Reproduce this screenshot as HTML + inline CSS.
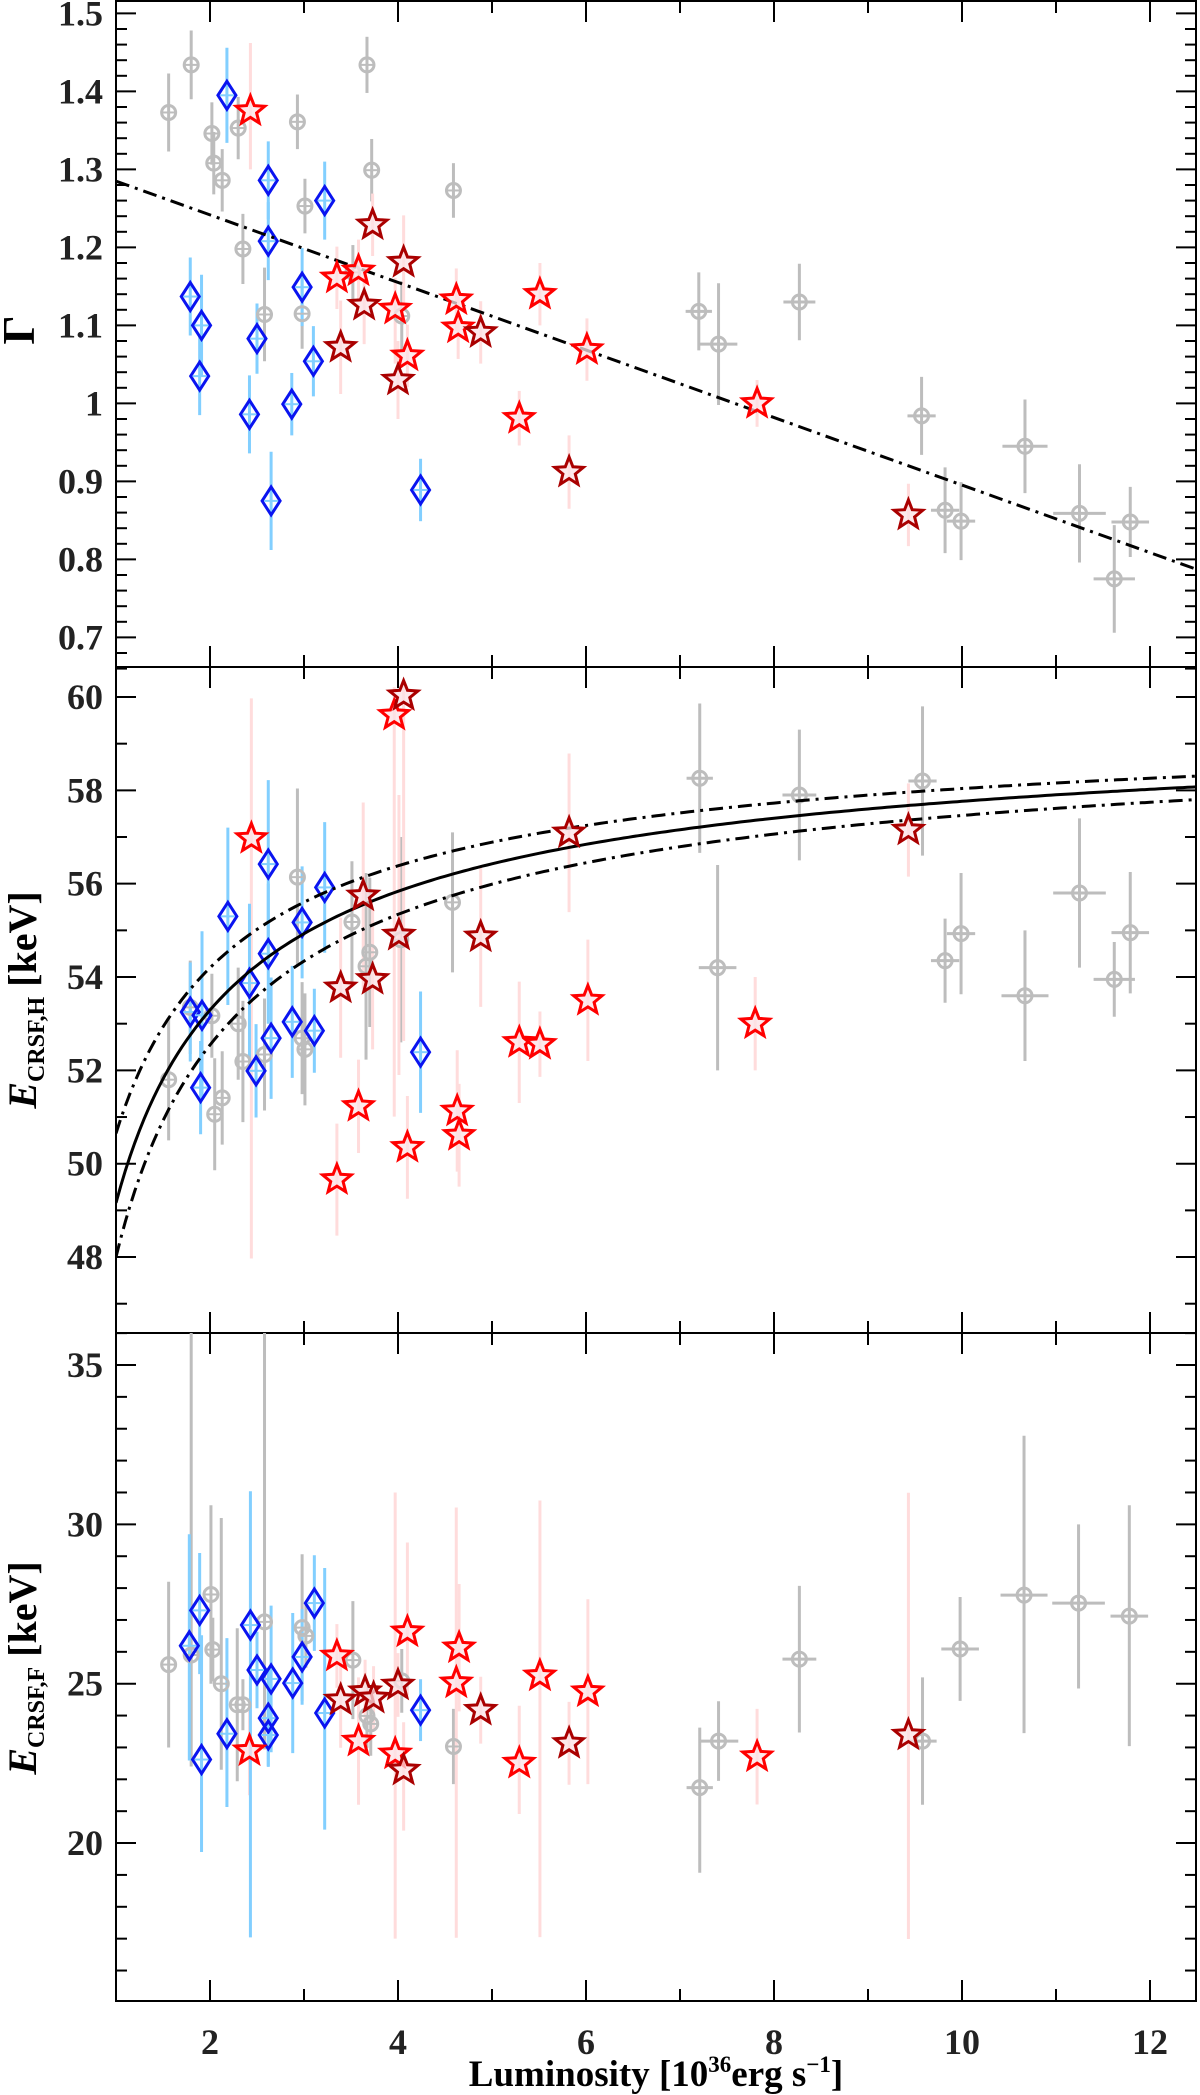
<!DOCTYPE html>
<html><head><meta charset="utf-8"><style>
html,body{margin:0;padding:0;background:#fff;}
svg{display:block;font-family:"Liberation Serif",serif;}
</style></head><body>
<svg id="chart" xmlns="http://www.w3.org/2000/svg" width="1200" height="2095" viewBox="0 0 1200 2095">
<rect x="0" y="0" width="1200" height="2095" fill="#fff"/>
<defs>
<clipPath id="c1"><rect x="116" y="1" width="1080" height="666"/></clipPath>
<clipPath id="c2"><rect x="116" y="667" width="1080" height="666"/></clipPath>
<clipPath id="c3"><rect x="116" y="1333" width="1080" height="668"/></clipPath>
</defs>
<g id="layer"></g>
<text x="0" y="0" transform="translate(34,330) rotate(-90)" text-anchor="middle" font-size="46" font-weight="bold">Γ</text>
<text transform="translate(36,1000) rotate(-90)" text-anchor="middle" font-size="40" font-weight="bold"><tspan font-style="italic">E</tspan><tspan font-size="24" dy="8">CRSF,H</tspan><tspan dy="-8"> [keV]</tspan></text>
<text transform="translate(36,1668) rotate(-90)" text-anchor="middle" font-size="40" font-weight="bold"><tspan font-style="italic">E</tspan><tspan font-size="24" dy="8">CRSF,F</tspan><tspan dy="-8"> [keV]</tspan></text>
<text x="656" y="2086" text-anchor="middle" font-size="37" font-weight="bold">Luminosity [10<tspan font-size="23" dy="-14">36</tspan><tspan dy="14">erg s</tspan><tspan font-size="23" dy="-14">−1</tspan><tspan dy="14">]</tspan></text>
</svg>
<script>
// ---------- Panel 1: photon index Gamma ----------
const p1GreyX=[1.56,1.8,2.02,2.04,2.13,2.3,2.35,2.58,2.93,2.98,3.01,3.52,3.67,3.72,4.04,4.59,7.2,7.41,8.27,9.57,9.82,9.99,10.67,11.25,11.62,11.79];
const p1GreyY=[1.373,1.434,1.346,1.308,1.286,1.353,1.198,1.114,1.361,1.115,1.253,1.168,1.434,1.299,1.112,1.273,1.118,1.076,1.13,0.984,0.863,0.849,0.945,0.859,0.775,0.848];
const p1GreyErr=[0.05,0.044,0.04,0.04,0.04,0.04,0.045,0.06,0.035,0.045,0.035,0.035,0.036,0.04,0.045,0.035,0.05,0.078,0.049,0.05,0.055,0.05,0.06,0.063,0.069,0.045];
const p1GreyXErr=[0,0,0,0,0,0,0,0,0,0,0,0,0,0,0,0,0.14,0.2,0.17,0.15,0.15,0.15,0.24,0.28,0.22,0.2];
const p1BlueX=[1.79,1.91,1.89,2.18,2.42,2.5,2.62,2.62,2.65,2.87,2.98,3.1,3.22,4.24];
const p1BlueY=[1.137,1.1,1.035,1.395,0.986,1.083,1.286,1.208,0.875,0.999,1.149,1.054,1.26,0.889];
const p1BlueErr=[0.05,0.065,0.05,0.061,0.05,0.045,0.05,0.05,0.063,0.04,0.05,0.045,0.05,0.04];
const p1RedX=[2.43,3.35,3.58,3.97,4.1,4.62,4.64,5.51,6.01,5.29,7.82];
const p1RedY=[1.375,1.161,1.17,1.121,1.061,1.133,1.097,1.14,1.069,0.981,1.0];
const p1RedLo=[0.075,0.04,0.04,0.07,0.04,0.04,0.04,0.04,0.04,0.035,0.03];
const p1RedHi=[0.087,0.04,0.04,0.04,0.04,0.04,0.04,0.04,0.04,0.035,0.03];
const p1DarkX=[3.39,3.64,3.73,4.06,4.0,4.88,5.82,9.43];
const p1DarkY=[1.072,1.126,1.229,1.181,1.03,1.091,0.912,0.857];
const p1DarkErr=[0.06,0.05,0.04,0.06,0.05,0.04,0.047,0.04];
const p1LineParams=[1.285,-0.0433]; // Gamma = a + b*(L-1)
const p1Ticks=[0.7,0.8,0.9,1,1.1,1.2,1.3,1.4,1.5];
const p1TickLabels=["0.7","0.8","0.9","1","1.1","1.2","1.3","1.4","1.5"];

// ---------- Panel 2: E_CRSF,H ----------
const p2GreyX=[1.56,1.79,2.02,2.05,2.13,2.3,2.35,2.58,2.93,2.98,3.01,3.51,3.7,3.66,4.03,4.58,7.21,7.4,8.27,9.58,9.82,9.99,10.67,11.25,11.62,11.79];
const p2GreyY=[51.8,53.35,53.17,51.06,51.41,53.0,52.19,52.34,56.14,52.69,52.45,55.18,54.53,54.23,54.8,55.6,58.26,54.2,57.9,58.2,54.35,54.93,53.6,55.8,53.95,54.95];
const p2GreyErr=[1.3,1.0,0.9,1.2,1.0,1.2,1.3,1.2,1.9,1.2,1.2,1.3,1.6,2.0,2.2,1.5,1.6,2.2,1.4,1.6,0.9,1.3,1.4,1.6,0.8,1.3];
const p2GreyXErr=[0,0,0,0,0,0,0,0,0,0,0,0,0,0,0,0,0.14,0.2,0.18,0.15,0.15,0.15,0.25,0.28,0.22,0.2];
const p2BlueX=[1.79,1.915,1.9,2.19,2.42,2.49,2.62,2.62,2.65,2.875,2.98,3.11,3.22,4.24];
const p2BlueY=[53.25,53.18,51.63,55.3,53.87,51.99,56.42,54.5,52.69,53.04,55.17,52.85,55.92,52.39];
const p2BlueErr=[1.06,1.8,1.0,1.9,1.7,1.0,1.8,1.5,1.3,1.2,1.2,0.9,1.4,1.3];
const p2RedX=[2.44,3.35,3.58,3.96,4.1,4.63,4.65,5.29,5.51,6.02,7.8];
const p2RedY=[56.97,49.66,51.23,59.61,50.35,51.13,50.61,52.6,52.56,53.5,53.0];
const p2RedLo=[9,1.2,1.0,8.6,1.1,1.3,1.1,1.3,0.7,1.3,1.0];
const p2RedHi=[3,1.2,1.0,0.6,1.1,1.3,1.1,1.3,0.7,1.3,1.0];
const p2DarkX=[3.39,3.63,3.73,4.06,4.01,4.88,5.82,9.43];
const p2DarkY=[53.77,55.74,53.95,60.03,54.9,54.86,57.09,57.15];
const p2DarkLo=[1.5,2.0,1.5,7.4,3,1.5,1.7,1.0];
const p2DarkHi=[1.5,2.0,1.5,0.3,3,1.5,1.7,1.0];
// model curves E = a - b * L^-0.7
const p2CurveA=[59.91,59.88,59.82];
const p2CurveB=[10.75,9.23,11.82];
const p2CurveP=0.7;
const p2Ticks=[48,50,52,54,56,58,60];
const p2TickLabels=["48","50","52","54","56","58","60"];

// ---------- Panel 3: E_CRSF,F ----------
const p3GreyX=[1.56,1.8,2.01,2.03,2.12,2.29,2.35,2.58,2.98,3.02,3.52,3.67,3.71,4.04,4.59,7.21,7.41,8.27,9.58,9.98,10.66,11.24,11.78];
const p3GreyY=[25.6,25.9,27.8,26.07,25.0,24.34,24.34,26.94,26.76,26.5,25.74,23.99,23.74,25.09,23.03,21.74,23.2,25.77,23.2,26.09,27.78,27.53,27.12];
const p3GreyLo=[2.6,3.5,2.8,1,2.7,2.4,0.8,4,2.3,1,1.85,1,1,1,1.18,2.67,1.25,2.3,2.0,1.63,4.33,2.68,4.08];
const p3GreyHi=[2.6,10.5,2.8,1,5.2,2.4,0.8,9.5,2.3,1,1.85,1,1,1,1.18,1.88,1.25,2.3,2.0,1.63,5.0,2.47,3.48];
const p3GreyXErr=[0,0,0,0,0,0,0,0,0,0,0,0,0,0,0,0.14,0.21,0.18,0.15,0.2,0.25,0.28,0.2];
const p3BlueX=[1.78,1.89,1.91,2.18,2.43,2.5,2.65,2.62,2.62,2.88,2.98,3.11,3.22,4.24];
const p3BlueY=[26.19,27.3,22.62,23.43,26.84,25.43,25.15,23.92,23.39,25.02,25.84,27.53,24.08,24.17];
const p3BlueLo=[3.6,2.0,2.9,2.3,9.8,1.2,2.3,1.5,1.0,2.2,1.5,1.5,3.66,0.97];
const p3BlueHi=[3.5,1.8,3.9,3.0,4.2,1.2,2.3,1.5,1.0,2.2,1.5,1.5,4.55,0.97];
const p3RedX=[2.42,3.35,3.58,3.97,4.1,4.65,4.62,5.29,5.51,6.02,7.82];
const p3RedY=[22.9,25.87,23.2,22.8,26.63,26.13,25.03,22.51,25.25,24.75,22.71];
const p3RedLo=[1.4,1.0,2.0,5.8,2.0,2.0,8.0,1.6,8.2,2.9,1.5];
const p3RedHi=[1.4,1.0,2.0,8.2,2.8,2.0,5.5,1.8,5.5,2.9,1.5];
const p3DarkX=[3.39,3.65,3.74,4.0,4.06,4.88,5.82,9.43];
const p3DarkY=[24.49,24.75,24.55,24.96,22.29,24.17,23.13,23.39];
const p3DarkLo=[1.5,1,1,1,1.9,1.05,1.3,6.4];
const p3DarkHi=[1.5,1,1,1,1.5,1.05,1.3,7.6];
const p3Ticks=[20,25,30,35];
const p3TickLabels=["20","25","30","35"];

const xTicks=[2,4,6,8,10,12];
const xTickLabels=["2","4","6","8","10","12"];

const NS="http://www.w3.org/2000/svg";
const svg=document.getElementById('chart');
const layer=document.getElementById('layer');
const X0=116,X1=1196;
function xs(v){return 116+(v-1)*94;}
const panels=[
 {top:1,bot:667,y:v=>13.4+(1.5-v)*780,clip:'c1',min:0.655,max:1.517,minor:0.02,name:'gamma-panel'},
 {top:667,bot:1333,y:v=>697+(60-v)*46.67,clip:'c2',min:46.37,max:60.64,minor:1,name:'ecrsf-h-panel'},
 {top:1333,bot:2001,y:v=>1365+(35-v)*31.87,clip:'c3',min:15.05,max:36.0,minor:1,name:'ecrsf-f-panel'}
];
function mk(tag,attrs,parent){const e=document.createElementNS(NS,tag);for(const k in attrs)e.setAttribute(k,attrs[k]);(parent||layer).appendChild(e);return e;}

function drawAxes(p,ticks,labels,idx){
  const g=mk('g',{});
  
  
  mk('rect',{x:X0,y:p.top,width:X1-X0,height:p.bot-p.top,fill:'none',stroke:'#000','stroke-width':2},g);
  const start=Math.ceil(p.min/p.minor-1e-6);
  for(let k=start;k*p.minor<=p.max+1e-9;k++){
    const v=k*p.minor;const yy=p.y(v);
    const major=ticks.some(t=>Math.abs(t-v)<1e-6);
    const L=major?20:11;
    mk('line',{x1:X0,x2:X0+L,y1:yy,y2:yy,stroke:'#000','stroke-width':2},g);
    mk('line',{x1:X1,x2:X1-L,y1:yy,y2:yy,stroke:'#000','stroke-width':2},g);
  }
  ticks.forEach((t,i)=>{
    const tx=mk('text',{x:103,y:p.y(t)+12,'text-anchor':'end','font-size':36,'font-weight':'bold',fill:'#222'},g);
    
    
    tx.textContent=labels[i];
  });
  for(let v=1;v<=12;v++){
    const major=v%2===0;const L=major?21:12;const xx=xs(v);
    mk('line',{x1:xx,x2:xx,y1:p.top,y2:p.top+L,stroke:'#000','stroke-width':2},g);
    mk('line',{x1:xx,x2:xx,y1:p.bot,y2:p.bot-L,stroke:'#000','stroke-width':2},g);
  }
}
function errbars(g,p,xv,yv,lo,hi,xe,color){
  for(let i=0;i<xv.length;i++){
    const cx=xs(xv[i]);const h=hi?hi[i]:lo[i];
    const e=mk('line',{x1:cx,x2:cx,y1:p.y(yv[i]-lo[i]),y2:p.y(yv[i]+h),stroke:color,'stroke-width':3},g);
    
    
    if(xe&&xe[i]>0){
      mk('line',{x1:xs(xv[i]-xe[i]),x2:xs(xv[i]+xe[i]),y1:p.y(yv[i]),y2:p.y(yv[i]),stroke:color,'stroke-width':3},g);
    }
  }
}
function circles(g,p,xv,yv){
  for(let i=0;i<xv.length;i++){
    const c=mk('circle',{cx:xs(xv[i]),cy:p.y(yv[i]),r:7,fill:'none',stroke:'#bdbdbd','stroke-width':3},g);
    
    
    mk('line',{x1:xs(xv[i])-7,x2:xs(xv[i])+7,y1:p.y(yv[i]),y2:p.y(yv[i]),stroke:'#bdbdbd','stroke-width':2},g);
  }
}
function diamonds(g,p,xv,yv){
  for(let i=0;i<xv.length;i++){
    const cx=xs(xv[i]),cy=p.y(yv[i]);
    const d=mk('polygon',{points:`${cx},${cy-14} ${cx+9},${cy} ${cx},${cy+14} ${cx-9},${cy}`,fill:'none',stroke:'#0a14f0','stroke-width':3},g);
    
    
    mk('line',{x1:cx-7,x2:cx+7,y1:cy,y2:cy,stroke:'#82cfff','stroke-width':2},g);
  }
}
function stars(g,p,xv,yv,color){
  for(let i=0;i<xv.length;i++){
    const cx=xs(xv[i]),cy=p.y(yv[i]);let pts=[];
    for(let k=0;k<10;k++){const r=k%2?6.5:15;const a=-Math.PI/2+k*Math.PI/5;pts.push((cx+r*Math.cos(a)).toFixed(1)+','+(cy+r*Math.sin(a)).toFixed(1));}
    const s=mk('polygon',{points:pts.join(' '),fill:'rgba(252,225,230,0.75)',stroke:color,'stroke-width':3,'stroke-linejoin':'miter'},g);
    
    
  }
}
function series(p){
  const g=mk('g',{'clip-path':'url(#'+p.clip+')'});
  
  
  return g;
}

(function(){
  const p=panels[0];drawAxes(p,p1Ticks,p1TickLabels,0);
  const g=series(p);
  errbars(g,p,p1GreyX,p1GreyY,p1GreyErr,null,p1GreyXErr,'#bdbdbd');
  errbars(g,p,p1RedX,p1RedY,p1RedLo,p1RedHi,null,'#ffdcdc');
  errbars(g,p,p1DarkX,p1DarkY,p1DarkErr,null,null,'#ffdcdc');
  errbars(g,p,p1BlueX,p1BlueY,p1BlueErr,null,null,'#82cfff');
  circles(g,p,p1GreyX,p1GreyY);
  diamonds(g,p,p1BlueX,p1BlueY);
  const ln=mk('line',{x1:xs(1),y1:p.y(p1LineParams[0]),x2:xs(12.6),y2:p.y(p1LineParams[0]+p1LineParams[1]*11.6),stroke:'#000','stroke-width':3,'stroke-dasharray':'14,6,3,6'},g);
  
  
  stars(g,p,p1RedX,p1RedY,'#ff0000');
  stars(g,p,p1DarkX,p1DarkY,'#aa0000');
})();
(function(){
  const p=panels[1];drawAxes(p,p2Ticks,p2TickLabels,1);
  const g=series(p);
  errbars(g,p,p2GreyX,p2GreyY,p2GreyErr,null,p2GreyXErr,'#bdbdbd');
  errbars(g,p,p2RedX,p2RedY,p2RedLo,p2RedHi,null,'#ffdcdc');
  errbars(g,p,p2DarkX,p2DarkY,p2DarkLo,p2DarkHi,null,'#ffdcdc');
  errbars(g,p,p2BlueX,p2BlueY,p2BlueErr,null,null,'#82cfff');
  circles(g,p,p2GreyX,p2GreyY);
  diamonds(g,p,p2BlueX,p2BlueY);
  const names=['ecrsf-h-model-curve','ecrsf-h-upper-bound','ecrsf-h-lower-bound'];
  for(let c=0;c<3;c++){
    let d='';
    for(let L=1;L<=12.6;L+=0.05){const E=p2CurveA[c]-p2CurveB[c]*Math.pow(L,-p2CurveP);d+=(d?'L':'M')+xs(L).toFixed(1)+','+p.y(E).toFixed(1);}
    const pa=mk('path',{d:d,fill:'none',stroke:'#000','stroke-width':3},g);
    if(c>0)pa.setAttribute('stroke-dasharray','14,6,3,6');
    
    
  }
  stars(g,p,p2RedX,p2RedY,'#ff0000');
  stars(g,p,p2DarkX,p2DarkY,'#aa0000');
})();
(function(){
  const p=panels[2];drawAxes(p,p3Ticks,p3TickLabels,2);
  const g=series(p);
  errbars(g,p,p3GreyX,p3GreyY,p3GreyLo,p3GreyHi,p3GreyXErr,'#bdbdbd');
  errbars(g,p,p3RedX,p3RedY,p3RedLo,p3RedHi,null,'#ffdcdc');
  errbars(g,p,p3DarkX,p3DarkY,p3DarkLo,p3DarkHi,null,'#ffdcdc');
  errbars(g,p,p3BlueX,p3BlueY,p3BlueLo,p3BlueHi,null,'#82cfff');
  circles(g,p,p3GreyX,p3GreyY);
  diamonds(g,p,p3BlueX,p3BlueY);
  stars(g,p,p3RedX,p3RedY,'#ff0000');
  stars(g,p,p3DarkX,p3DarkY,'#aa0000');
  xTicks.forEach((t,i)=>{
    const tx=mk('text',{x:xs(t),y:2054,'text-anchor':'middle','font-size':36,'font-weight':'bold',fill:'#222'});
    
    
    tx.textContent=xTickLabels[i];
  });
})();
</script>
</body></html>
